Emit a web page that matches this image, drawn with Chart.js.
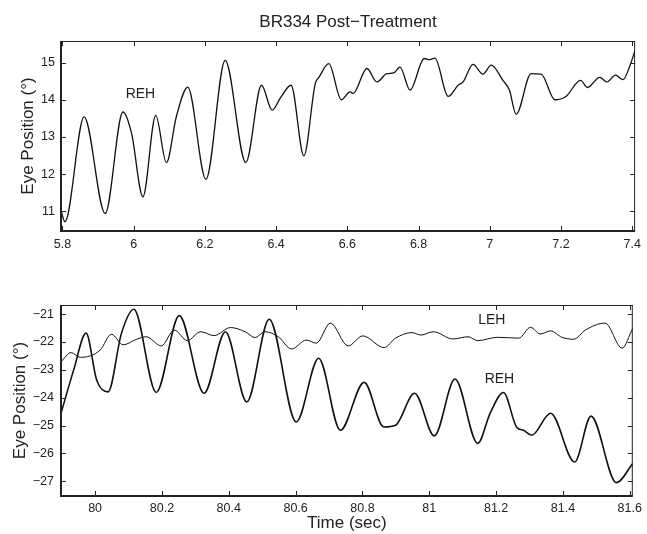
<!DOCTYPE html>
<html>
<head>
<meta charset="utf-8">
<script src="https://cdn.jsdelivr.net/npm/chart.js@4.4.0/dist/chart.umd.min.js"></script>
<style>
    body { margin: 0; background: #fff; }
    #wrap { position: relative; width: 647px; height: 534px; }
    #top-chart { position: absolute; left: 0; top: 0; }
    #bottom-chart { position: absolute; left: 0; top: 270px; }
</style>
</head>
<body>
<div id="wrap">
    <canvas id="top-chart" width="647" height="270"></canvas>
    <canvas id="bottom-chart" width="647" height="264"></canvas>
</div>
<script>
// Top panel: right eye, 5.8 - 7.4 s
const topTime = [5.796, 5.807, 5.861, 5.92, 5.970, 5.994, 6.026, 6.062, 6.092, 6.120,
    6.152, 6.203, 6.257, 6.315, 6.359, 6.389, 6.412, 6.442, 6.478, 6.51,
    6.52, 6.548, 6.583, 6.608, 6.616, 6.655, 6.683, 6.711, 6.730, 6.748,
    6.776, 6.816, 6.831, 6.846, 6.883, 6.911, 6.925, 6.953, 6.981, 7.004,
    7.037, 7.055, 7.074, 7.116, 7.144, 7.183, 7.213, 7.255, 7.274, 7.309,
    7.329, 7.353, 7.374, 7.394, 7.408];
const topREH = [11.02, 10.72, 13.54, 10.94, 13.67, 13.10, 11.39, 13.58, 12.31, 13.55,
    14.34, 11.86, 15.06, 12.31, 14.39, 13.72, 14.05, 14.39, 12.49, 14.44,
    14.60, 14.97, 14.00, 14.21, 14.17, 14.84, 14.48, 14.70, 14.72, 14.88,
    14.26, 15.11, 15.08, 15.12, 14.09, 14.39, 14.48, 14.95, 14.69, 14.93,
    14.52, 14.26, 13.61, 14.70, 14.69, 14.00, 14.08, 14.52, 14.33, 14.60,
    14.48, 14.66, 14.54, 14.93, 15.33];

// Bottom panel: right and left eye, 79.9 - 81.6 s
const bottomTimeREH = [79.898, 79.936, 79.973, 80.005, 80.039, 80.079, 80.116, 80.183, 80.252, 80.326,
    80.390, 80.454, 80.521, 80.602, 80.669, 80.734, 80.805, 80.864, 80.899, 80.956,
    81.015, 81.077, 81.145, 81.182, 81.222, 81.262, 81.282, 81.306, 81.363, 81.435,
    81.484, 81.560, 81.609];
const bottomREH = [-24.56, -23.00, -21.68, -23.37, -23.79, -21.68, -20.82, -23.81, -21.05, -23.84,
    -21.63, -24.15, -21.18, -24.87, -22.58, -25.17, -23.45, -25.05, -24.99, -23.84,
    -25.37, -23.33, -25.64, -24.56, -23.81, -25.07, -25.17, -25.35, -24.56, -26.31,
    -24.66, -27.05, -26.36];
const bottomTimeLEH = [79.898, 79.928, 79.956, 80.015, 80.049, 80.084, 80.124, 80.153, 80.198, 80.237,
    80.276, 80.316, 80.356, 80.405, 80.449, 80.479, 80.508, 80.548, 80.588, 80.632,
    80.662, 80.704, 80.757, 80.801, 80.865, 80.899, 80.948, 80.975, 81.012, 81.071,
    81.116, 81.145, 81.204, 81.268, 81.303, 81.332, 81.363, 81.397, 81.432, 81.467,
    81.526, 81.577, 81.609];
const bottomLEH = [-22.71, -22.38, -22.55, -22.29, -21.72, -22.10, -21.90, -21.81, -22.14, -21.57,
    -21.95, -21.63, -21.77, -21.48, -21.63, -21.84, -21.63, -21.81, -22.25, -21.93,
    -22.04, -21.32, -22.14, -21.78, -22.20, -21.86, -21.66, -21.75, -21.63, -21.89,
    -21.81, -21.95, -21.83, -21.86, -21.47, -21.71, -21.60, -21.83, -21.90, -21.57,
    -21.32, -22.22, -21.50];

// Tick values and labels
const topXTicks = [5.8, 6, 6.2, 6.4, 6.6, 6.8, 7, 7.2, 7.4];
const topXLabels = ['5.8', '6', '6.2', '6.4', '6.6', '6.8', '7', '7.2', '7.4'];
const topYTicks = [11, 12, 13, 14, 15];
const topYLabels = ['11', '12', '13', '14', '15'];
const bottomXTicks = [80, 80.2, 80.4, 80.6, 80.8, 81, 81.2, 81.4, 81.6];
const bottomXLabels = ['80', '80.2', '80.4', '80.6', '80.8', '81', '81.2', '81.4', '81.6'];
const bottomYTicks = [-27, -26, -25, -24, -23, -22, -21];
const bottomYLabels = ['−27', '−26', '−25', '−24', '−23', '−22', '−21'];

const FONT = "'Liberation Sans', Arial, Helvetica, sans-serif";
const INK = '#222';

function toPoints(xs, ys) {
    return xs.map((x, i) => ({ x: x, y: ys[i] }));
}

// MATLAB style box with inward ticks on all four sides
const boxPlugin = {
    id: 'box',
    afterDatasetsDraw(chart) {
        const { ctx, chartArea: a, scales: { x, y } } = chart;
        const len = 5;
        ctx.save();
        ctx.strokeStyle = INK;
        ctx.lineWidth = 1;
        ctx.beginPath();
        x.ticks.forEach(t => {
            const px = Math.round(x.getPixelForValue(t.value)) + 0.5;
            ctx.moveTo(px, a.bottom); ctx.lineTo(px, a.bottom - len);
            ctx.moveTo(px, a.top); ctx.lineTo(px, a.top + len);
        });
        y.ticks.forEach(t => {
            const py = Math.round(y.getPixelForValue(t.value)) + 0.5;
            ctx.moveTo(a.left, py); ctx.lineTo(a.left + len, py);
            ctx.moveTo(a.right, py); ctx.lineTo(a.right - len, py);
        });
        // top and right edges
        ctx.moveTo(a.left, a.top + 0.5); ctx.lineTo(a.right, a.top + 0.5);
        ctx.moveTo(a.right - 0.5, a.top); ctx.lineTo(a.right - 0.5, a.bottom);
        ctx.stroke();
        // heavier left and bottom edges
        ctx.lineWidth = 2;
        ctx.beginPath();
        ctx.moveTo(a.left, a.top); ctx.lineTo(a.left, a.bottom);
        ctx.lineTo(a.right, a.bottom);
        ctx.stroke();
        ctx.restore();
    }
};

// Text labels next to the traces, placed in data coordinates
const curveLabels = {
    id: 'curveLabels',
    afterDatasetsDraw(chart, args, opts) {
        const { ctx, scales: { x, y } } = chart;
        ctx.save();
        ctx.fillStyle = INK;
        ctx.font = '14px ' + FONT;
        ctx.textAlign = 'center';
        ctx.textBaseline = 'middle';
        (opts.items || []).forEach(it => {
            ctx.fillText(it.text, x.getPixelForValue(it.x), y.getPixelForValue(it.y));
        });
        ctx.restore();
    }
};

function makeOptions(cfg) {
    return {
        responsive: false,
        animation: false,
        events: [],
        layout: { padding: cfg.padding },
        plugins: {
            legend: { display: false },
            tooltip: { enabled: false },
            title: cfg.title,
            curveLabels: { items: cfg.labels }
        },
        scales: {
            x: {
                type: 'linear',
                min: cfg.xMin,
                max: cfg.xMax,
                grid: { display: false, drawTicks: false },
                border: { display: false },
                afterBuildTicks: s => { s.ticks = cfg.xTicks.map(v => ({ value: v })); },
                afterFit: s => { s.height = cfg.xHeight; },
                title: cfg.xTitle,
                ticks: {
                    autoSkip: false,
                    maxRotation: 0,
                    padding: cfg.xPad,
                    color: INK,
                    font: { family: FONT, size: 12.5 },
                    callback: (v, i) => cfg.xLabels[i]
                }
            },
            y: {
                min: cfg.yMin,
                max: cfg.yMax,
                grid: { display: false, drawTicks: false },
                border: { display: false },
                afterBuildTicks: s => { s.ticks = cfg.yTicks.map(v => ({ value: v })); },
                afterFit: s => { s.width = cfg.yWidth; },
                title: {
                    display: true,
                    text: 'Eye Position (°)',
                    color: INK,
                    font: { family: FONT, size: 17 },
                    padding: { top: 2, bottom: 0 }
                },
                ticks: {
                    autoSkip: false,
                    padding: cfg.yPad,
                    color: INK,
                    font: { family: FONT, size: 12.5 },
                    callback: (v, i) => cfg.yLabels[i]
                }
            }
        }
    };
}

new Chart(document.getElementById('top-chart'), {
    type: 'line',
    data: {
        datasets: [{
            label: 'REH',
            data: toPoints(topTime, topREH),
            borderColor: '#111',
            borderWidth: 1.3,
            pointRadius: 0,
            fill: false,
            cubicInterpolationMode: 'monotone'
        }]
    },
    options: makeOptions({
        padding: { left: 16, right: 9, top: 0, bottom: 0 },
        title: {
            display: true,
            text: 'BR334 Post−Treatment',
            fullSize: false,
            color: INK,
            font: { family: FONT, size: 17, weight: 'normal' },
            padding: { top: 12, bottom: 8.6 }
        },
        labels: [{ text: 'REH', x: 6.019, y: 14.14 }],
        xMin: 5.796, xMax: 7.408, xTicks: topXTicks, xLabels: topXLabels, xHeight: 39, xPad: 6,
        xTitle: { display: false },
        yMin: 10.47, yMax: 15.58, yTicks: topYTicks, yLabels: topYLabels, yWidth: 45, yPad: 6
    }),
    plugins: [boxPlugin, curveLabels]
});

new Chart(document.getElementById('bottom-chart'), {
    type: 'line',
    data: {
        datasets: [
            {
                label: 'REH',
                data: toPoints(bottomTimeREH, bottomREH),
                borderColor: '#111',
                borderWidth: 1.6,
                pointRadius: 0,
                fill: false,
                cubicInterpolationMode: 'monotone'
            },
            {
                label: 'LEH',
                data: toPoints(bottomTimeLEH, bottomLEH),
                borderColor: '#111',
                borderWidth: 1,
                pointRadius: 0,
                fill: false,
                cubicInterpolationMode: 'monotone'
            }
        ]
    },
    options: makeOptions({
        padding: { left: 8, right: 9, top: 35, bottom: 0 },
        title: { display: false },
        labels: [
            { text: 'LEH', x: 81.187, y: -21.23 },
            { text: 'REH', x: 81.210, y: -23.34 }
        ],
        xMin: 79.898, xMax: 81.609, xTicks: bottomXTicks, xLabels: bottomXLabels, xHeight: 38, xPad: 5,
        xTitle: {
            display: true,
            text: 'Time (sec)',
            color: INK,
            font: { family: FONT, size: 17 },
            padding: { top: 0, bottom: 0 }
        },
        yMin: -27.53, yMax: -20.67, yTicks: bottomYTicks, yLabels: bottomYLabels, yWidth: 53, yPad: 7
    }),
    plugins: [boxPlugin, curveLabels]
});
</script>
</body>
</html>
